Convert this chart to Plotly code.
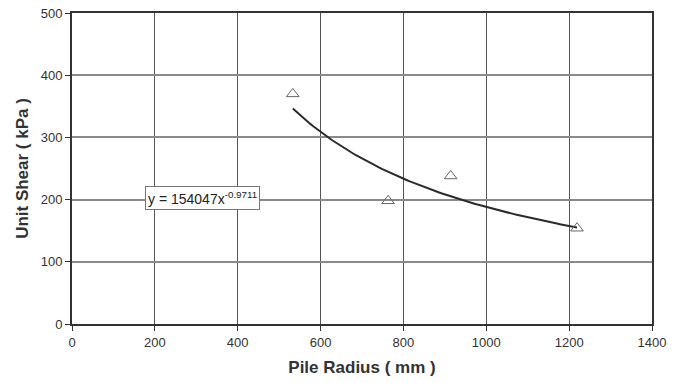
import numpy as np
import plotly.graph_objects as go

# Data
pile_radius = [533, 763, 914, 1219]
unit_shear = [370, 198, 238, 154]
# Power trendline shown on the chart: y = 154047 x^-0.9711
coef_a = 154047
coef_b = -0.9711
x_ticks = [0, 200, 400, 600, 800, 1000, 1200, 1400]
y_ticks = [0, 100, 200, 300, 400, 500]

fit_x = np.linspace(min(pile_radius), max(pile_radius), 100)
fit_y = coef_a * fit_x ** coef_b

fig = go.Figure()
fig.add_trace(go.Scatter(x=fit_x, y=fit_y, mode="lines",
                         line=dict(color="#2b2b2b", width=2), showlegend=False,
                         hoverinfo="skip"))
fig.add_trace(go.Scatter(x=pile_radius, y=unit_shear, mode="markers",
                         marker=dict(symbol="triangle-up-open", size=11,
                                     color="#666666", line=dict(width=1)),
                         showlegend=False))

fig.add_annotation(x=176, y=202, xref="x", yref="y",
                   text="y = 154047x<sup>-0.9711</sup>", showarrow=False,
                   xanchor="left", yanchor="middle",
                   font=dict(family="Liberation Sans, Arial", size=14, color="#222"),
                   bgcolor="white", bordercolor="#777", borderwidth=1, borderpad=2)

fig.update_layout(
    width=678, height=383,
    margin=dict(l=72, r=26, t=13, b=59),
    plot_bgcolor="white", paper_bgcolor="white",
    font=dict(family="Liberation Sans, Arial", size=13, color="#333"),
    xaxis=dict(range=[0, 1400], tickvals=x_ticks, showgrid=True,
               gridcolor="#555555", gridwidth=1, zeroline=False,
               showline=True, linecolor="#333", linewidth=2, mirror=True,
               ticks="outside", ticklen=5, tickcolor="#333", automargin=False,
               tickfont=dict(size=13, color="#333"),
               title=dict(text="<b>Pile Radius ( mm )</b>",
                          font=dict(size=17, color="#333"), standoff=13)),
    yaxis=dict(range=[0, 500], tickvals=y_ticks, showgrid=True,
               gridcolor="#8a8a8a", gridwidth=1.5, zeroline=False,
               showline=True, linecolor="#333", linewidth=2, mirror=True,
               ticks="outside", ticklen=5, tickcolor="#333", automargin=False,
               tickfont=dict(size=13, color="#333"),
               title=dict(text="<b>Unit Shear ( kPa )</b>",
                          font=dict(size=17, color="#333"), standoff=8)),
)

fig.write_html("out.html")
